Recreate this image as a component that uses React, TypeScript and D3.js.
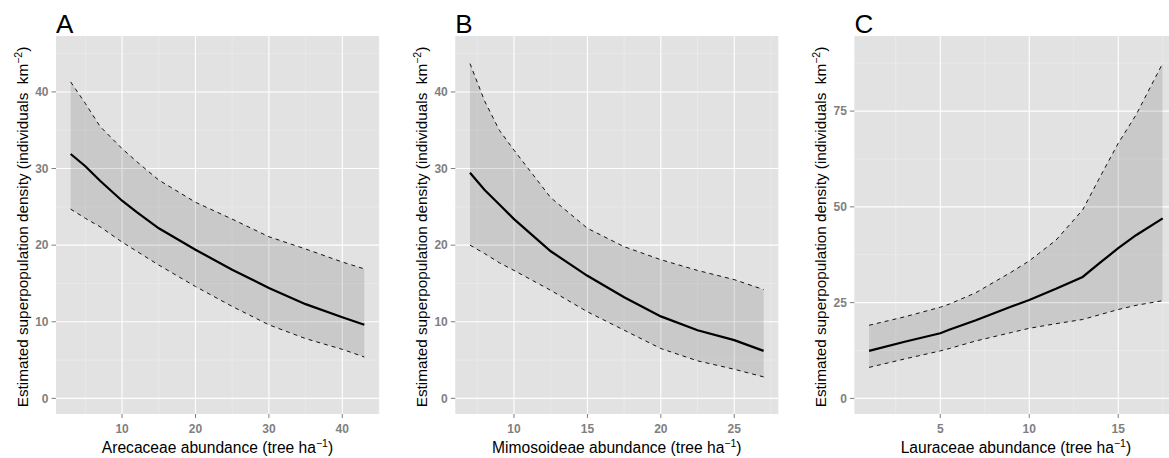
import React from "react";
import * as d3 from "d3";

// Panel A: Arecaceae
const aX = [3, 5, 7, 10, 12, 15, 20, 25, 30, 35, 40, 43];
const aMean = [31.9, 30.3, 28.4, 25.8, 24.3, 22.2, 19.4, 16.8, 14.4, 12.3, 10.6, 9.6];
const aUpper = [41.3, 38.5, 35.5, 32.6, 30.9, 28.5, 25.6, 23.4, 21.1, 19.5, 17.8, 16.9];
const aLower = [24.7, 23.5, 22.4, 20.4, 19.2, 17.4, 14.6, 12.0, 9.6, 7.8, 6.4, 5.4];
const aXTicks = [10, 20, 30, 40];
const aXMinor = [5, 15, 25, 35, 45];
const aYTicks = [0, 10, 20, 30, 40];
const aYMinor = [5, 15, 25, 35, 45];

// Panel B: Mimosoideae
const bX = [7, 8, 9, 10, 12.5, 15, 17.5, 20, 22.5, 25, 27];
const bMean = [29.45, 27.2, 25.3, 23.4, 19.2, 16.0, 13.2, 10.7, 8.9, 7.6, 6.2];
const bUpper = [43.7, 38.8, 35.0, 32.4, 26.2, 22.2, 19.8, 18.1, 16.7, 15.5, 14.2];
const bLower = [20.0, 18.9, 17.7, 16.7, 14.1, 11.3, 8.9, 6.5, 4.9, 3.8, 2.8];
const bXTicks = [10, 15, 20, 25];
const bXMinor = [7.5, 12.5, 17.5, 22.5, 27.5];
const bYTicks = [0, 10, 20, 30, 40];
const bYMinor = [5, 15, 25, 35, 45];

// Panel C: Lauraceae
const cX = [1, 3, 5, 5.5, 7, 9, 10, 11.5, 13, 14, 15, 16, 17.5];
const cMean = [12.4, 14.8, 17.0, 17.9, 20.4, 24.0, 25.7, 28.6, 31.7, 35.5, 39.2, 42.6, 47.0];
const cUpper = [19.1, 21.3, 23.8, 24.6, 27.6, 33.0, 35.9, 41.3, 49.2, 58.0, 66.6, 74.0, 87.5];
const cLower = [8.1, 10.3, 12.4, 13.0, 15.0, 17.2, 18.3, 19.5, 20.6, 21.9, 23.2, 24.3, 25.5];
const cXTicks = [5, 10, 15];
const cXMinor = [2.5, 7.5, 12.5, 17.5];
const cYTicks = [0, 25, 50, 75];
const cYMinor = [12.5, 37.5, 62.5, 87.5];

const panels = [
  { letter: "A", name: "Arecaceae", xs: aX, mean: aMean, upper: aUpper, lower: aLower, xTicks: aXTicks, xMinor: aXMinor, yTicks: aYTicks, yMinor: aYMinor, xDom: [1, 45], yDom: [-2.04, 47.3], left: 56 },
  { letter: "B", name: "Mimosoideae", xs: bX, mean: bMean, upper: bUpper, lower: bLower, xTicks: bXTicks, xMinor: bXMinor, yTicks: bYTicks, yMinor: bYMinor, xDom: [6, 28], yDom: [-2.04, 47.3], left: 455.3 },
  { letter: "C", name: "Lauraceae", xs: cX, mean: cMean, upper: cUpper, lower: cLower, xTicks: cXTicks, xMinor: cXMinor, yTicks: cYTicks, yMinor: cYMinor, xDom: [0.175, 18.325], yDom: [-4.07, 94.6], left: 854.4 },
];

const W = 323;
const TOP = 36;
const BOTTOM = 414;
const FONT = "'Liberation Sans', Arial, sans-serif";

function Panel({ p }: { p: any }) {
  const x = d3.scaleLinear().domain(p.xDom).range([p.left, p.left + W]);
  const y = d3.scaleLinear().domain(p.yDom).range([BOTTOM, TOP]);
  const pts = p.xs.map((v: number, i: number) => ({ x: v, m: p.mean[i], u: p.upper[i], l: p.lower[i] }));
  const area = d3.area<any>().x((d) => x(d.x)).y0((d) => y(d.l)).y1((d) => y(d.u));
  const lineM = d3.line<any>().x((d) => x(d.x)).y((d) => y(d.m));
  const lineU = d3.line<any>().x((d) => x(d.x)).y((d) => y(d.u));
  const lineL = d3.line<any>().x((d) => x(d.x)).y((d) => y(d.l));
  const right = p.left + W;
  const cx = p.left + W / 2;
  const cy = 227;
  const titleX = p.left - 28.5;
  return (
    <g>
      <rect x={p.left} y={TOP} width={W} height={BOTTOM - TOP} fill="#e2e2e2" />
      {p.yMinor.map((t: number) => (
        <line key={"ym" + t} x1={p.left} x2={right} y1={y(t)} y2={y(t)} stroke="#eeeeee" strokeWidth={0.6} />
      ))}
      {p.xMinor.map((t: number) => (
        <line key={"xm" + t} x1={x(t)} x2={x(t)} y1={TOP} y2={BOTTOM} stroke="#eeeeee" strokeWidth={0.6} />
      ))}
      {p.yTicks.map((t: number) => (
        <line key={"yg" + t} x1={p.left} x2={right} y1={y(t)} y2={y(t)} stroke="#ffffff" strokeWidth={1.1} />
      ))}
      {p.xTicks.map((t: number) => (
        <line key={"xg" + t} x1={x(t)} x2={x(t)} y1={TOP} y2={BOTTOM} stroke="#ffffff" strokeWidth={1.1} />
      ))}
      <path d={area(pts) || ""} fill="#000" fillOpacity={0.11} />
      <path d={lineU(pts) || ""} fill="none" stroke="#111" strokeWidth={1} strokeDasharray="4,4" />
      <path d={lineL(pts) || ""} fill="none" stroke="#111" strokeWidth={1} strokeDasharray="4,4" />
      <path d={lineM(pts) || ""} fill="none" stroke="#000" strokeWidth={2.2} />
      {p.yTicks.map((t: number) => (
        <g key={"yt" + t}>
          <line x1={p.left - 4.5} x2={p.left} y1={y(t)} y2={y(t)} stroke="#7f7f7f" strokeWidth={1} />
          <text x={p.left - 7.5} y={y(t)} dy="0.36em" textAnchor="end" fontSize={12} fontWeight="bold" fill="#7f7f7f" fontFamily={FONT}>{t}</text>
        </g>
      ))}
      {p.xTicks.map((t: number) => (
        <g key={"xt" + t}>
          <line x1={x(t)} x2={x(t)} y1={BOTTOM} y2={BOTTOM + 4} stroke="#7f7f7f" strokeWidth={1} />
          <text x={x(t)} y={BOTTOM + 19} textAnchor="middle" fontSize={12} fontWeight="bold" fill="#7f7f7f" fontFamily={FONT}>{t}</text>
        </g>
      ))}
      <text x={cx} y={BOTTOM + 39} textAnchor="middle" fontSize={15.6} fill="#000" fontFamily={FONT}>
        {p.name + " abundance (tree ha"}
        <tspan dy={-6} fontSize={10.5}>−1</tspan>
        <tspan dy={6}>)</tspan>
      </text>
      <text transform={`translate(${titleX},${cy}) rotate(-90)`} textAnchor="middle" fontSize={15.3} fill="#000" fontFamily={FONT}>
        {"Estimated superpopulation density (individuals\u00a0 km"}
        <tspan dy={-6} fontSize={10.5}>−2</tspan>
        <tspan dy={6}>)</tspan>
      </text>
      <text x={p.left} y={33} fontSize={26} fill="#000" fontFamily={FONT}>{p.letter}</text>
    </g>
  );
}

export default function App() {
  return (
    <svg width={1169} height={458} style={{ position: "absolute", left: 0, top: 0, background: "#fff" }}>
      <rect width={1169} height={458} fill="#fff" />
      {panels.map((p) => (
        <Panel key={p.letter} p={p} />
      ))}
    </svg>
  );
}
